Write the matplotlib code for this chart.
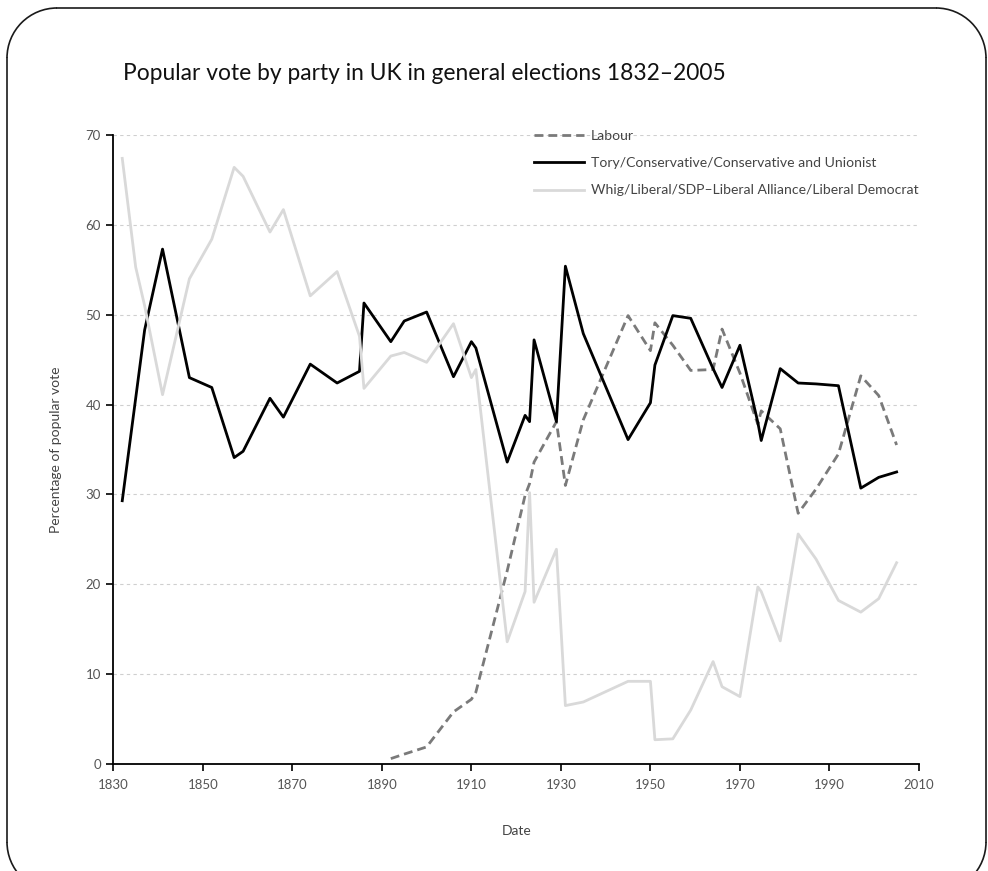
import matplotlib
matplotlib.use("Agg")
import matplotlib.pyplot as plt
from matplotlib.patches import Arc

# ---------------------------------------------
# Data (percent of popular vote)
# ---------------------------------------------
years = [1832, 1835, 1837, 1841, 1847, 1852, 1857, 1859, 1865, 1868,
         1874, 1880, 1885, 1886, 1892, 1895, 1900, 1906, 1910, 1911,
         1918, 1922, 1923, 1924, 1929, 1931, 1935, 1945, 1950, 1951,
         1955, 1959, 1964, 1966, 1970, 1974, 1974.75, 1979, 1983, 1987,
         1992, 1997, 2001, 2005]

conservative = [29.3, 40.7, 48.3, 57.3, 43.0, 41.9, 34.1, 34.8, 40.7, 38.6,
                44.5, 42.4, 43.7, 51.3, 47.0, 49.3, 50.3, 43.1, 47.0, 46.3,
                33.6, 38.8, 38.1, 47.2, 38.1, 55.4, 47.9, 36.1, 40.2, 44.4,
                49.9, 49.6, 44.0, 41.9, 46.6, 38.0, 36.0, 44.0, 42.4, 42.3,
                42.1, 30.7, 31.9, 32.5]

liberal = [67.4, 55.3, 51.0, 41.1, 54.0, 58.4, 66.4, 65.4, 59.2, 61.7,
           52.1, 54.8, 47.6, 41.8, 45.4, 45.8, 44.7, 49.0, 43.0, 43.9,
           13.6, 19.2, 30.2, 18.0, 23.9, 6.5, 6.9, 9.2, 9.2, 2.7,
           2.8, 6.0, 11.4, 8.6, 7.5, 19.7, 19.2, 13.7, 25.6, 22.8,
           18.2, 16.9, 18.4, 22.4]

labour_years = [1892, 1895, 1900, 1906, 1910, 1911, 1918, 1922, 1923, 1924,
                1929, 1931, 1935, 1945, 1950, 1951, 1955, 1959, 1964, 1966,
                1970, 1974, 1974.75, 1979, 1983, 1987, 1992, 1997, 2001, 2005]

labour = [0.6, 1.1, 1.9, 5.8, 7.2, 8.0, 21.5, 29.9, 31.2, 33.6,
          38.1, 31.0, 38.3, 49.9, 46.0, 49.1, 46.6, 43.8, 43.9, 48.4,
          43.5, 37.8, 39.3, 37.3, 27.9, 30.6, 34.5, 43.2, 41.0, 35.5]

x_ticks = [1830, 1850, 1870, 1890, 1910, 1930, 1950, 1970, 1990, 2010]
y_ticks = [0, 10, 20, 30, 40, 50, 60, 70]

title = "Popular vote by party in UK in general elections 1832\u20132005"
lab_name = "Labour"
con_name = "Tory/Conservative/Conservative and Unionist"
lib_name = "Whig/Liberal/SDP\u2013Liberal Alliance/Liberal Democrat"

plt.rcParams["font.family"] = ["Lato", "DejaVu Sans"]

W, H = 988, 871
fig = plt.figure(figsize=(W / 100, H / 100), dpi=100)

# rounded frame (pixel coords, y downwards), bottom edge falls off the page
bg = fig.add_axes([0, 0, 1, 1])
bg.set_xlim(0, W)
bg.set_ylim(H, 0)
bg.axis("off")
x0, y0, x1, y1, r = 7, 8, 986, 892, 50
fc = "#1a1a1a"
bg.plot([x0, x0], [y0 + r, y1 - r], color=fc, lw=1.2)
bg.plot([x1, x1], [y0 + r, y1 - r], color=fc, lw=1.2)
bg.plot([x0 + r, x1 - r], [y0, y0], color=fc, lw=1.2)
bg.plot([x0 + r, x1 - r], [y1, y1], color=fc, lw=1.2)
for cx, cy, t1, t2 in [(x0 + r, y0 + r, 180, 270), (x1 - r, y0 + r, 270, 360),
                       (x0 + r, y1 - r, 90, 180), (x1 - r, y1 - r, 0, 90)]:
    bg.add_patch(Arc((cx, cy), 2 * r, 2 * r, theta1=t1, theta2=t2,
                     color=fc, lw=1.2))

ax = fig.add_axes([113.3 / W, 1 - 764 / H, (919 - 113.3) / W, (764 - 135) / H])

ax.plot(labour_years, labour, color="#7a7a7a", linewidth=2.0,
        linestyle=(0, (3.2, 1.8)), label=lab_name)
ax.plot(years, conservative, color="black", linewidth=2.0, label=con_name)
ax.plot(years, liberal, color="#d9d9d9", linewidth=2.0, label=lib_name)

ax.set_xlim(1830, 2010)
ax.set_ylim(0, 70)
ax.set_xticks(x_ticks)
ax.set_yticks(y_ticks)

ax.yaxis.grid(True, color="#cfcfcf", linestyle=(0, (3, 3)), linewidth=0.8)
ax.set_axisbelow(True)
for s in ["top", "right"]:
    ax.spines[s].set_visible(False)
for s in ["left", "bottom"]:
    ax.spines[s].set_linewidth(1.3)

ax.tick_params(axis="both", direction="out", length=5, width=1.2,
               labelsize=9.5, labelcolor="#555555", pad=4)
ax.tick_params(axis="x", pad=6)

ax.set_xlabel("Date", fontsize=10, color="#444444", labelpad=24)
ax.set_ylabel("Percentage of popular vote", fontsize=10, color="#444444",
              labelpad=17)

leg = ax.legend(loc="upper left", bbox_to_anchor=(528 / W, 1 - 124 / H),
                bbox_transform=fig.transFigure, frameon=False, fontsize=10.1,
                handlelength=3.6, handletextpad=0.5, labelspacing=1.1,
                borderaxespad=0)
for t in leg.get_texts():
    t.set_color("#444444")

fig.text(123 / W, 1 - 80 / H, title, fontsize=16.4, color="#111111",
         ha="left", va="baseline")

fig.savefig("out.png", dpi=100)
